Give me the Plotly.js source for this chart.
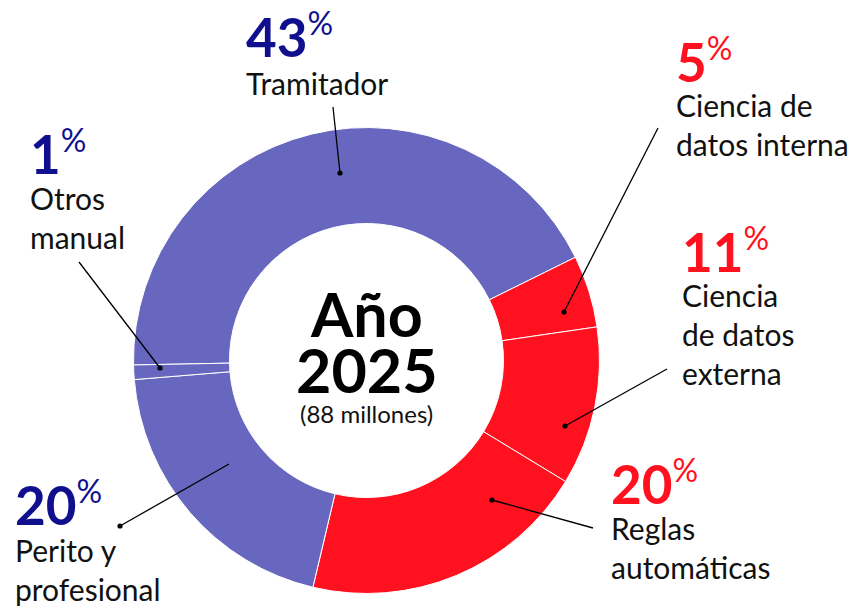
<!DOCTYPE html>
<html><head><meta charset="utf-8">
<script src="https://cdn.plot.ly/plotly-3.0.1.min.js"></script>
<style>html,body{margin:0;padding:0;background:#fff}</style>
</head><body><div id="chart" style="width:861px;height:609px"></div>
<script>
// ---- data ----
var labels = ['Tramitador', 'Ciencia de datos interna', 'Ciencia de datos externa', 'Reglas automáticas', 'Perito y profesional', 'Otros manual'];
var values = [43, 5, 11, 20, 20, 1];
var labelLines = [['Tramitador'], ['Ciencia de', 'datos interna'], ['Ciencia', 'de datos', 'externa'], ['Reglas', 'automáticas'], ['Perito y', 'profesional'], ['Otros', 'manual']];
var groups = ['manual', 'auto', 'auto', 'auto', 'manual', 'manual'];
var centerTitle = ['Año', '2025'];
var centerSub = '(88 millones)';

// ---- styling ----
var W = 861, H = 609;
var sliceColor = {manual: '#6767bf', auto: '#ff1120'};
var textColor = {manual: '#10108f', auto: '#ff1120'};
var FONT = 'Lato, "Noto Sans", sans-serif';
var pcx = 366.5, pcy = 360.5, pr = 233;   // pie placement (px)
// label block positions: left x, baseline of the percentage, baseline of first name line
var labelPos = [[246, 55, 95], [676, 80, 117], [682, 270, 307], [611, 502, 540], [15, 523, 562], [30, 172, 210]];
// leader lines [x1,y1,x2,y2] with dot at which end (1 or 2)
var leaders = [[333, 107, 340, 173, 2], [658, 128, 564, 312, 2], [667, 369, 565, 426, 2], [593, 528, 492, 500, 2], [120, 526, 229, 464, 1], [79, 262, 160, 368, 2]];

function px(x) { return x / W; }
function py(y) { return 1 - y / H; }

var PCT = 53, PSUP = 32, NAME = 30, ASC = 0.987;

var annotations = [];
labels.forEach(function (lab, i) {
  var p = labelPos[i];
  var col = textColor[groups[i]];
  annotations.push({
    xref: 'paper', yref: 'paper', x: px(p[0]), y: py(p[1] - ASC * PCT),
    xanchor: 'left', yanchor: 'top', showarrow: false, borderpad: 0, borderwidth: 0,
    text: '<b>' + values[i] + '</b><sup><span style="font-size:' + PSUP + 'px">%</span></sup>',
    font: {family: FONT, size: PCT, color: col}
  });
  annotations.push({
    xref: 'paper', yref: 'paper', x: px(p[0]), y: py(p[2] - ASC * NAME),
    xanchor: 'left', yanchor: 'top', showarrow: false, align: 'left', borderpad: 0, borderwidth: 0,
    text: labelLines[i].join('<br>'),
    font: {family: FONT, size: NAME, color: '#111'}
  });
});
// center text
var CT = 61;
annotations.push({xref: 'paper', yref: 'paper', x: px(pcx), y: py(337 - ASC * CT), xanchor: 'center', yanchor: 'top', showarrow: false, borderpad: 0, borderwidth: 0,
  text: '<b>' + centerTitle[0] + '</b>', font: {family: FONT, size: CT, color: '#000'}});
annotations.push({xref: 'paper', yref: 'paper', x: px(pcx), y: py(393 - ASC * CT), xanchor: 'center', yanchor: 'top', showarrow: false, borderpad: 0, borderwidth: 0,
  text: '<b>' + centerTitle[1] + '</b>', font: {family: FONT, size: CT, color: '#000'}});
annotations.push({xref: 'paper', yref: 'paper', x: px(pcx), y: py(423 - ASC * 24), xanchor: 'center', yanchor: 'top', showarrow: false, borderpad: 0, borderwidth: 0,
  text: centerSub, font: {family: FONT, size: 24, color: '#111'}});

var shapes = [];
leaders.forEach(function (l) {
  shapes.push({type: 'line', xref: 'paper', yref: 'paper', x0: px(l[0]), y0: py(l[1]), x1: px(l[2]), y1: py(l[3]), line: {color: '#000', width: 1.3}});
  var dx = l[4] === 1 ? l[0] : l[2], dy = l[4] === 1 ? l[1] : l[3], r = 2.6;
  shapes.push({type: 'circle', xref: 'paper', yref: 'paper', x0: px(dx - r), x1: px(dx + r), y0: py(dy + r), y1: py(dy - r), fillcolor: '#000', line: {width: 0}});
});

var trace = {
  type: 'pie', labels: labels, values: values, sort: false, direction: 'clockwise', rotation: -91.1,
  hole: 0.588, textinfo: 'none', hoverinfo: 'label+percent',
  marker: {colors: groups.map(function (g) { return sliceColor[g]; }), line: {color: '#ffffff', width: 1}},
  domain: {x: [px(pcx - pr), px(pcx + pr)], y: [py(pcy + pr), py(pcy - pr)]}
};

var layout = {width: W, height: H, margin: {l: 0, r: 0, t: 0, b: 0}, showlegend: false,
  paper_bgcolor: '#fff', plot_bgcolor: '#fff', annotations: annotations, shapes: shapes};

Plotly.newPlot('chart', [trace], layout, {displayModeBar: false, staticPlot: true});
</script></body></html>
